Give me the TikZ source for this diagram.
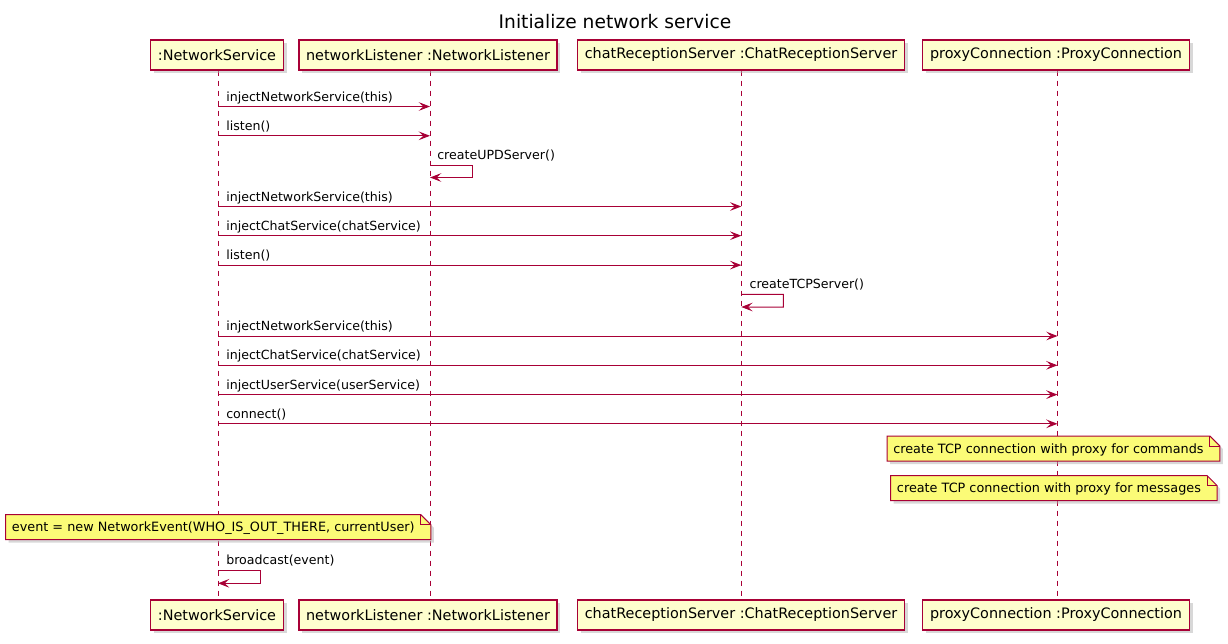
\documentclass[tikz,border=0pt]{standalone}
\usepackage{fontspec}
\setmainfont{DejaVu Sans}
\usetikzlibrary{arrows.meta,shadows,backgrounds}
\definecolor{umlred}{HTML}{A80036}
\definecolor{partfill}{HTML}{FEFECE}
\definecolor{notefill}{HTML}{FBFB77}
\tikzset{
  part/.style={draw=umlred, fill=partfill, line width=1pt, minimum height=22.5pt,
    inner xsep=5.4pt, inner ysep=0pt, font=\fontsize{10.8pt}{12pt}\selectfont,
    drop shadow={shadow xshift=2.5pt, shadow yshift=-2.5pt, fill=black!30, opacity=0.5}},
  lifeline/.style={draw=umlred, line width=0.75pt, dash pattern=on 3.75pt off 3.75pt},
  msg/.style={draw=umlred, line width=0.75pt, -{Stealth[length=8.5pt,width=6.5pt,inset=3.5pt]}},
  lbl/.style={anchor=base west, inner sep=0pt, font=\fontsize{9.45pt}{11pt}\selectfont},
  notetext/.style={anchor=base west, inner sep=0pt, font=\fontsize{9.6pt}{11pt}\selectfont},
  notebg/.style={draw=umlred, fill=notefill, line width=0.75pt},
  noteshadow/.style={fill=black!30, opacity=0.5},
  titlestyle/.style={anchor=base, inner sep=0pt, font=\fontsize{14pt}{16pt}\selectfont}
}
\begin{document}
\begin{tikzpicture}[x=0.75pt,y=-0.75pt]
\useasboundingbox (0,0) rectangle (1228,643);

\node[titlestyle] (title) at (615,28) {Initialize network service};

% participants (top)
\node[part] (ns)  at (217,55)    {:NetworkService};
\node[part] (nl)  at (428,55)    {networkListener :NetworkListener};
\node[part] (crs) at (741,55)    {chatReceptionServer :ChatReceptionServer};
\node[part] (pc)  at (1056,55)   {proxyConnection :ProxyConnection};
% participants (bottom)
\node[part] (nsb)  at (217,615)  {:NetworkService};
\node[part] (nlb)  at (428,615)  {networkListener :NetworkListener};
\node[part] (crsb) at (741,615)  {chatReceptionServer :ChatReceptionServer};
\node[part] (pcb)  at (1056,615) {proxyConnection :ProxyConnection};

% lifeline x positions
\coordinate (nsx) at (218,0);
\coordinate (nlx) at (430,0);
\coordinate (crsx) at (741.3,0);
\coordinate (pcx) at (1057.5,0);

% lifelines
\begin{scope}[on background layer]
  \draw[lifeline] (ns.south -| nsx) -- (nsb.north -| nsx);
  \draw[lifeline] (nl.south -| nlx) -- (nlb.north -| nlx);
  \draw[lifeline] (crs.south -| crsx) -- (crsb.north -| crsx);
  \draw[lifeline] (pc.south -| pcx) -- (pcb.north -| pcx);
\end{scope}

% message rows
\coordinate (r1) at (0,106.5);
\coordinate (r2) at (0,135.8);
\coordinate (s1a) at (0,165);
\coordinate (s1b) at (0,177.5);
\coordinate (r4) at (0,206.5);
\coordinate (r5) at (0,235.7);
\coordinate (r6) at (0,265.1);
\coordinate (s2a) at (0,294.3);
\coordinate (s2b) at (0,307);
\coordinate (r8) at (0,336);
\coordinate (r9) at (0,365.3);
\coordinate (r10) at (0,394.6);
\coordinate (r11) at (0,423.8);
\coordinate (s3a) at (0,570.3);
\coordinate (s3b) at (0,583.3);

\draw[msg] (nsx |- r1) -- (nlx |- r1);
\node[lbl] (l1) at ([xshift=6pt,yshift=4.1pt]nsx |- r1) {injectNetworkService(this)};
\draw[msg] (nsx |- r2) -- (nlx |- r2);
\node[lbl] (l2) at ([xshift=6pt,yshift=4.1pt]nsx |- r2) {listen()};
\draw[msg] (nlx |- s1a) -- ++(42,0) -- ++(0,12.5) -- (nlx |- s1b);
\node[lbl] (l3) at ([xshift=5.25pt,yshift=4.1pt]nlx |- s1a) {createUPDServer()};

\draw[msg] (nsx |- r4) -- (crsx |- r4);
\node[lbl] (l4) at ([xshift=6pt,yshift=4.1pt]nsx |- r4) {injectNetworkService(this)};
\draw[msg] (nsx |- r5) -- (crsx |- r5);
\node[lbl] (l5) at ([xshift=6pt,yshift=4.1pt]nsx |- r5) {injectChatService(chatService)};
\draw[msg] (nsx |- r6) -- (crsx |- r6);
\node[lbl] (l6) at ([xshift=6pt,yshift=4.1pt]nsx |- r6) {listen()};
\draw[msg] (crsx |- s2a) -- ++(42,0) -- ++(0,12.7) -- (crsx |- s2b);
\node[lbl] (l7) at ([xshift=6pt,yshift=4.1pt]crsx |- s2a) {createTCPServer()};

\draw[msg] (nsx |- r8) -- (pcx |- r8);
\node[lbl] (l8) at ([xshift=6pt,yshift=4.1pt]nsx |- r8) {injectNetworkService(this)};
\draw[msg] (nsx |- r9) -- (pcx |- r9);
\node[lbl] (l9) at ([xshift=6pt,yshift=4.1pt]nsx |- r9) {injectChatService(chatService)};
\draw[msg] (nsx |- r10) -- (pcx |- r10);
\node[lbl] (l10) at ([xshift=6pt,yshift=4.1pt]nsx |- r10) {injectUserService(userService)};
\draw[msg] (nsx |- r11) -- (pcx |- r11);
\node[lbl] (l11) at ([xshift=6pt,yshift=4.1pt]nsx |- r11) {connect()};

% notes
\node[notetext] (n1) at (893,453) {create TCP connection with proxy for commands};
\node[notetext] (n2) at (896.7,492.7) {create TCP connection with proxy for messages};
\node[notetext] (n3) at (11.7,531.7) {event = new NetworkEvent(WHO\_IS\_OUT\_THERE, currentUser)};

\begin{scope}[on background layer]
\foreach \n in {n1,n2,n3}{
  \fill[noteshadow] ([shift={(-3,-14)}]\n.base west) -- ([shift={(9,-14)}]\n.base east)
     -- ([shift={(19,-4)}]\n.base east) -- ([shift={(19,11)}]\n.base east)
     -- ([shift={(-3,11)}]\n.base west) -- cycle;
  \draw[notebg] ([shift={(-6,-17)}]\n.base west) -- ([shift={(6,-17)}]\n.base east)
     -- ([shift={(16,-7)}]\n.base east) -- ([shift={(16,8)}]\n.base east)
     -- ([shift={(-6,8)}]\n.base west) -- cycle;
  \draw[notebg, fill=none] ([shift={(6,-17)}]\n.base east) -- ([shift={(6,-7)}]\n.base east)
     -- ([shift={(16,-7)}]\n.base east);
}
\end{scope}

\draw[msg] (nsx |- s3a) -- ++(42,0) -- ++(0,13) -- (nsx |- s3b);
\node[lbl] (l12) at ([xshift=6pt,yshift=4.1pt]nsx |- s3a) {broadcast(event)};

\end{tikzpicture}
\end{document}
